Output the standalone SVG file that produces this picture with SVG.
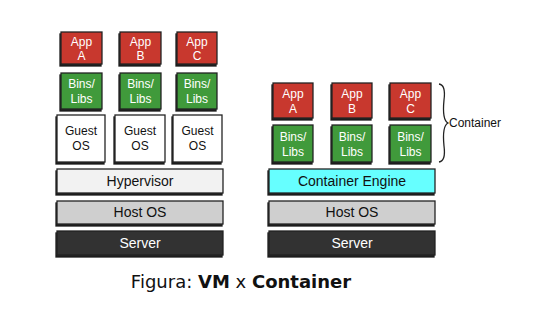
<svg xmlns="http://www.w3.org/2000/svg" width="550" height="332" viewBox="0 0 550 332">
  <style>
    .box { stroke: #222; stroke-width: 1.3; filter: url(#edge); }
    .app { fill: #c8392e; }
    .libs { fill: #3f9a3a; }
    .guest { fill: #ffffff; }
    .hyper { fill: #f2f2f2; }
    .engine { fill: #66ffff; }
    .host { fill: #cfcfcf; }
    .server { fill: #333333; }
    text { font-family: "Liberation Sans", Arial, sans-serif; text-anchor: middle; }
    .lt { fill: #ffffff; font-size: 12px; }
    .dk { fill: #111111; font-size: 12px; }
    .bar { font-size: 14px; }
  </style>
  <defs>
    <!-- hand-drawn look: a dark sliver offset along the left and bottom edges -->
    <filter id="edge" x="-10%" y="-10%" width="120%" height="125%">
      <feOffset in="SourceAlpha" dx="-1.2" dy="1.6" result="off"/>
      <feFlood flood-color="#1a1a1a"/>
      <feComposite in2="off" operator="in" result="sh"/>
      <feMerge>
        <feMergeNode in="sh"/>
        <feMergeNode in="SourceGraphic"/>
      </feMerge>
    </filter>
  </defs>

  <!-- Virtual machine stack -->
  <g id="vm-app-a">
    <rect class="box app" x="61" y="32" width="41" height="32"/>
    <text class="lt" x="81.5" y="46">App</text>
    <text class="lt" x="81.5" y="60">A</text>
  </g>
  <g id="vm-app-b">
    <rect class="box app" x="120" y="32" width="41" height="32"/>
    <text class="lt" x="140.5" y="46">App</text>
    <text class="lt" x="140.5" y="60">B</text>
  </g>
  <g id="vm-app-c">
    <rect class="box app" x="177" y="32" width="40" height="32"/>
    <text class="lt" x="197" y="46">App</text>
    <text class="lt" x="197" y="60">C</text>
  </g>
  <g id="vm-libs-a">
    <rect class="box libs" x="61" y="73" width="41" height="36"/>
    <text class="lt" x="81.5" y="88">Bins/</text>
    <text class="lt" x="81.5" y="103">Libs</text>
  </g>
  <g id="vm-libs-b">
    <rect class="box libs" x="120" y="73" width="41" height="36"/>
    <text class="lt" x="140.5" y="88">Bins/</text>
    <text class="lt" x="140.5" y="103">Libs</text>
  </g>
  <g id="vm-libs-c">
    <rect class="box libs" x="177" y="73" width="40" height="36"/>
    <text class="lt" x="197" y="88">Bins/</text>
    <text class="lt" x="197" y="103">Libs</text>
  </g>
  <g id="guest-os-a">
    <rect class="box guest" x="57" y="115" width="48" height="47"/>
    <text class="dk" x="81" y="135">Guest</text>
    <text class="dk" x="81" y="150">OS</text>
  </g>
  <g id="guest-os-b">
    <rect class="box guest" x="115" y="115" width="50" height="47"/>
    <text class="dk" x="140" y="135">Guest</text>
    <text class="dk" x="140" y="150">OS</text>
  </g>
  <g id="guest-os-c">
    <rect class="box guest" x="173" y="115" width="49" height="47"/>
    <text class="dk" x="197.5" y="135">Guest</text>
    <text class="dk" x="197.5" y="150">OS</text>
  </g>
  <g id="hypervisor">
    <rect class="box hyper" x="57" y="169" width="166" height="24"/>
    <text class="bar" x="140" y="186" fill="#111">Hypervisor</text>
  </g>
  <g id="vm-host-os">
    <rect class="box host" x="57" y="201" width="166" height="23"/>
    <text class="bar" x="140" y="217" fill="#111">Host OS</text>
  </g>
  <g id="vm-server">
    <rect class="box server" x="57" y="231" width="166" height="24"/>
    <text class="bar" x="140" y="248" fill="#fff">Server</text>
  </g>

  <!-- Container stack -->
  <g id="ct-app-a">
    <rect class="box app" x="273" y="83" width="40" height="35"/>
    <text class="lt" x="293" y="98">App</text>
    <text class="lt" x="293" y="113">A</text>
  </g>
  <g id="ct-app-b">
    <rect class="box app" x="332" y="83" width="40" height="35"/>
    <text class="lt" x="352" y="98">App</text>
    <text class="lt" x="352" y="113">B</text>
  </g>
  <g id="ct-app-c">
    <rect class="box app" x="390" y="83" width="41" height="35"/>
    <text class="lt" x="410.5" y="98">App</text>
    <text class="lt" x="410.5" y="113">C</text>
  </g>
  <g id="ct-libs-a">
    <rect class="box libs" x="273" y="125" width="40" height="37"/>
    <text class="lt" x="293" y="141">Bins/</text>
    <text class="lt" x="293" y="156">Libs</text>
  </g>
  <g id="ct-libs-b">
    <rect class="box libs" x="332" y="125" width="40" height="37"/>
    <text class="lt" x="352" y="141">Bins/</text>
    <text class="lt" x="352" y="156">Libs</text>
  </g>
  <g id="ct-libs-c">
    <rect class="box libs" x="390" y="125" width="41" height="37"/>
    <text class="lt" x="410.5" y="141">Bins/</text>
    <text class="lt" x="410.5" y="156">Libs</text>
  </g>
  <g id="container-engine">
    <rect class="box engine" x="269" y="169" width="166" height="24"/>
    <text class="bar" x="352" y="186" fill="#111">Container Engine</text>
  </g>
  <g id="ct-host-os">
    <rect class="box host" x="269" y="201" width="166" height="23"/>
    <text class="bar" x="352" y="217" fill="#111">Host OS</text>
  </g>
  <g id="ct-server">
    <rect class="box server" x="269" y="231" width="166" height="24"/>
    <text class="bar" x="352" y="248" fill="#fff">Server</text>
  </g>

  <!-- brace grouping the containers -->
  <g id="connectors">
    <path d="M439,84 Q446,85 444,100 Q442,120 448,123 Q442,126 444,146 Q446,161 439,162" fill="none" stroke="#222" stroke-width="1.3"/>
  </g>
  <g id="container-label">
    <text x="449" y="127" style="text-anchor:start;font-size:12px" fill="#111">Container</text>
  </g>

  <!-- caption -->
  <text x="241" y="288" style="font-family:'DejaVu Sans',sans-serif;font-size:18px" fill="#111">Figura: <tspan font-weight="bold">VM</tspan> x <tspan font-weight="bold">Container</tspan></text>
</svg>
